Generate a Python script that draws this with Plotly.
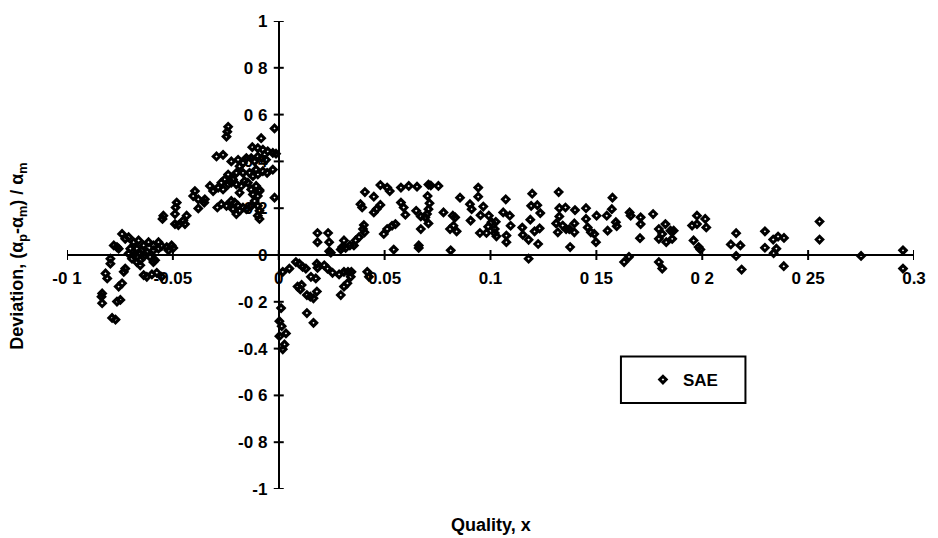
import plotly.graph_objects as go

# SAE void-fraction correlation: relative deviation versus flow quality

# Subcooled region (negative thermodynamic quality)
quality_sub = [
    -0.0239, -0.0243, -0.0247, -0.0020, -0.0083,
    -0.0125, -0.0099, -0.0075, -0.0052, -0.0028, -0.0013,
    -0.0294, -0.0263, -0.0224, -0.0192, -0.0169, -0.0153, -0.0130, -0.0114, -0.0099, -0.0080, -0.0060,
    -0.0271, -0.0255, -0.0239, -0.0216, -0.0200, -0.0185, -0.0169, -0.0161, -0.0138, -0.0122, -0.0107,
    -0.0099, -0.0075, -0.0055, -0.0028,
    -0.0325, -0.0310, -0.0286, -0.0263, -0.0239, -0.0224, -0.0200, -0.0177, -0.0185, -0.0146, -0.0130,
    -0.0107, -0.0091, -0.0122,
    -0.0396, -0.0404, -0.0380, -0.0349, -0.0352, -0.0380,
    -0.0290, -0.0271, -0.0247, -0.0224, -0.0208, -0.0192, -0.0169, -0.0153, -0.0185, -0.0216, -0.0200,
    -0.0130, -0.0114, -0.0099, -0.0091, -0.0099, -0.0091, -0.0091, -0.0099,
    -0.0020,
    -0.0482, -0.0487, -0.0490, -0.0490, -0.0474, -0.0451, -0.0435, -0.0443,
    -0.0545, -0.0549,
    -0.0740, -0.0725, -0.0709, -0.0685, -0.0662, -0.0638, -0.0615, -0.0592, -0.0568, -0.0553, -0.0529,
    -0.0506, -0.0498, -0.0764, -0.0779, -0.0756, -0.0701, -0.0670, -0.0647, -0.0623, -0.0592, -0.0568,
    -0.0521, -0.0709, -0.0685, -0.0654, -0.0631, -0.0608, -0.0670, -0.0654, -0.0693, -0.0592, -0.0584,
    -0.0654,
    -0.0795, -0.0795, -0.0818, -0.0810, -0.0834, -0.0837, -0.0834, -0.0787, -0.0771, -0.0764, -0.0748,
    -0.0756, -0.0740, -0.0732, -0.0725, -0.0638, -0.0623, -0.0599, -0.0576, -0.0553,
]
deviation_sub = [
    0.548, 0.527, 0.506, 0.541, 0.499,
    0.461, 0.457, 0.450, 0.443, 0.436, 0.433,
    0.421, 0.428, 0.400, 0.407, 0.393, 0.414, 0.414, 0.400, 0.421, 0.414, 0.407,
    0.309, 0.323, 0.344, 0.323, 0.351, 0.379, 0.351, 0.316, 0.351, 0.337, 0.365,
    0.344, 0.358, 0.351, 0.365,
    0.295, 0.273, 0.288, 0.280, 0.302, 0.309, 0.302, 0.295, 0.266, 0.309, 0.280,
    0.295, 0.278, 0.259,
    0.273, 0.252, 0.238, 0.238, 0.224, 0.199,
    0.203, 0.217, 0.210, 0.231, 0.224, 0.210, 0.203, 0.196, 0.189, 0.196, 0.175,
    0.210, 0.231, 0.252, 0.273, 0.210, 0.189, 0.154, 0.168,
    0.245,
    0.224, 0.203, 0.175, 0.132, 0.128, 0.147, 0.168, 0.132,
    0.168, 0.154,
    0.090, 0.069, 0.076, 0.055, 0.062, 0.041, 0.055, 0.041, 0.055, 0.038, 0.034,
    0.041, 0.030, 0.034, 0.041, 0.027, 0.027, 0.027, 0.020, 0.013, 0.020, 0.027,
    0.020, 0.006, -0.001, 0.006, -0.001, -0.008, -0.030, -0.022, -0.016, -0.030, -0.022,
    -0.044,
    -0.016, -0.037, -0.079, -0.100, -0.164, -0.178, -0.206, -0.269, -0.276, -0.199, -0.192,
    -0.135, -0.121, -0.072, -0.058, -0.086, -0.093, -0.083, -0.076, -0.093,
]

# Low-quality region (0 < x < 0.11)
quality_low = [
    0.0407, 0.0449, 0.0480, 0.0512, 0.0524, 0.0577, 0.0614, 0.0653, 0.0707, 0.0718, 0.0754,
    0.0703, 0.0712, 0.0707, 0.0700, 0.0692, 0.0707, 0.0671, 0.0649, 0.0671,
    0.0577, 0.0590, 0.0598, 0.0480, 0.0462, 0.0449, 0.0386, 0.0394,
    0.0402, 0.0398, 0.0405, 0.0379, 0.0363, 0.0355, 0.0336, 0.0308, 0.0300, 0.0316, 0.0293,
    0.0496, 0.0512, 0.0535, 0.0551, 0.0543, 0.0661, 0.0661, 0.0812,
    0.0778, 0.0856, 0.0822, 0.0833, 0.0825, 0.0809, 0.0840,
    0.0903, 0.0911, 0.0906, 0.0942, 0.0942, 0.0966, 0.0953, 0.0992, 0.1005, 0.1025, 0.1020,
    0.0989, 0.0950, 0.0981, 0.1020, 0.1028, 0.1072, 0.1060, 0.1091, 0.1095, 0.1075, 0.1075,
    0.0183, 0.0183, 0.0233, 0.0238, 0.0238, 0.0246,
    0.0019, 0.0050, 0.0081, 0.0097, 0.0113, 0.0128, 0.0089, 0.0102, 0.0108, 0.0133, 0.0149,
    0.0164, 0.0180, 0.0175, 0.0183, 0.0180, 0.0230, 0.0215, 0.0254, 0.0285, 0.0308, 0.0327,
    0.0343, 0.0340, 0.0324, 0.0308, 0.0293, 0.0418, 0.0426, 0.0133, 0.0164, 0.0152,
    0.0011, 0.0003, 0.0014, 0.0034, 0.0003, 0.0027, 0.0019,
]
deviation_low = [
    0.269, 0.249, 0.299, 0.288, 0.273, 0.288, 0.295, 0.292, 0.301, 0.297, 0.295,
    0.252, 0.221, 0.196, 0.175, 0.161, 0.135, 0.111, 0.189, 0.165,
    0.224, 0.203, 0.172, 0.214, 0.196, 0.182, 0.217, 0.203,
    0.128, 0.111, 0.097, 0.076, 0.062, 0.041, 0.041, 0.062, 0.034, 0.030, 0.024,
    0.090, 0.111, 0.125, 0.132, 0.023, 0.041, 0.030, 0.020,
    0.182, 0.245, 0.168, 0.161, 0.125, 0.111, 0.101,
    0.217, 0.196, 0.147, 0.288, 0.249, 0.207, 0.170, 0.168, 0.140, 0.142, 0.111,
    0.121, 0.094, 0.094, 0.094, 0.080, 0.238, 0.182, 0.168, 0.125, 0.083, 0.055,
    0.094, 0.055, 0.094, 0.055, 0.016, 0.010,
    -0.072, -0.058, -0.030, -0.037, -0.051, -0.058, -0.135, -0.147, -0.128, -0.171, -0.178,
    -0.185, -0.156, -0.100, -0.055, -0.037, -0.058, -0.044, -0.076, -0.083, -0.072, -0.072,
    -0.072, -0.093, -0.121, -0.135, -0.171, -0.072, -0.093, -0.248, -0.290, -0.093,
    -0.227, -0.283, -0.304, -0.335, -0.347, -0.382, -0.403,
]

# High-quality region (x > 0.11)
quality_high = [
    0.1197, 0.1192, 0.1221, 0.1235, 0.1188, 0.1150, 0.1153, 0.1180, 0.1208, 0.1232, 0.1225, 0.1180,
    0.1322, 0.1325, 0.1354, 0.1399, 0.1451, 0.1325, 0.1310, 0.1341, 0.1357, 0.1372, 0.1396, 0.1396,
    0.1318, 0.1376, 0.1451, 0.1459, 0.1474, 0.1490, 0.1498, 0.1501, 0.1549, 0.1576, 0.1573, 0.1553,
    0.1592, 0.1596, 0.1657, 0.1662, 0.1709, 0.1709, 0.1706, 0.1768, 0.1826, 0.1795, 0.1811, 0.1850,
    0.1865, 0.1795, 0.1830, 0.1858, 0.1631, 0.1654, 0.1795, 0.1811,
    0.1975, 0.2014, 0.2019, 0.1952, 0.1975, 0.1959, 0.1983, 0.1991,
    0.2160, 0.2135, 0.2180, 0.2160, 0.2186, 0.2296, 0.2296, 0.2335, 0.2358, 0.2386, 0.2350, 0.2337,
    0.2385, 0.2554, 0.2554, 0.2750, 0.2948, 0.2948,
]
deviation_high = [
    0.262, 0.210, 0.213, 0.179, 0.151, 0.117, 0.086, 0.065, 0.101, 0.114, 0.047, -0.016,
    0.269, 0.200, 0.203, 0.192, 0.200, 0.165, 0.135, 0.126, 0.111, 0.111, 0.135, 0.097,
    0.097, 0.034, 0.154, 0.118, 0.097, 0.090, 0.055, 0.168, 0.168, 0.245, 0.196, 0.104,
    0.140, 0.123, 0.182, 0.168, 0.161, 0.132, 0.072, 0.175, 0.132, 0.111, 0.090, 0.104,
    0.104, 0.069, 0.055, 0.069, -0.030, -0.008, -0.030, -0.058,
    0.168, 0.154, 0.118, 0.126, 0.132, 0.062, 0.034, 0.024,
    0.093, 0.045, 0.041, -0.004, -0.062, 0.101, 0.031, 0.066, 0.079, 0.073, 0.027, 0.008,
    -0.048, 0.143, 0.066, -0.004, 0.020, -0.058,
]

quality = quality_sub + quality_low + quality_high
deviation = deviation_sub + deviation_low + deviation_high

x_ticks = [-0.1, -0.05, 0, 0.05, 0.1, 0.15, 0.2, 0.25, 0.3]
x_labels = ["-0 1", "-0.05", "0", "0.05", "0.1", "0 15", "0 2", "0 25", "0.3"]
y_ticks = [1, 0.8, 0.6, 0.4, 0.2, 0, -0.2, -0.4, -0.6, -0.8, -1]
y_labels = ["1", "0 8", "0 6", "0 4", "0 2", "0", "-0 2", "-0.4", "-0 6", "-0 8", "-1"]

FONT = "Liberation Sans, Arial, sans-serif"
tick_font = dict(family=FONT, size=17, color="black", weight="bold")
title_font = dict(family=FONT, size=18, color="black", weight="bold")
TICK_HALF = 5  # pixels each side of the axis line

fig = go.Figure()
fig.add_trace(go.Scatter(
    x=quality, y=deviation, mode="markers", name="SAE", cliponaxis=False,
    marker=dict(symbol="diamond-open", size=5, color="black",
                line=dict(width=3, color="black")),
))

# Tick marks crossing the axes (both sides of each axis line)
tick_shapes = []
for v in x_ticks:
    tick_shapes.append(dict(type="line", xref="x", yref="y", x0=v, x1=v,
                            ysizemode="pixel", yanchor=0, y0=-TICK_HALF, y1=TICK_HALF,
                            line=dict(color="black", width=2), layer="below"))
for v in y_ticks:
    tick_shapes.append(dict(type="line", xref="x", yref="y", y0=v, y1=v,
                            xsizemode="pixel", xanchor=0, x0=-TICK_HALF, x1=TICK_HALF,
                            line=dict(color="black", width=2), layer="below"))

legend_box = dict(type="rect", xref="paper", yref="paper",
                  x0=0.654, x1=0.801, y0=0.184, y1=0.283,
                  line=dict(color="black", width=2), fillcolor="rgba(0,0,0,0)")

fig.update_layout(
    width=938, height=538,
    margin=dict(l=67, r=18, t=16, b=49),
    paper_bgcolor="white", plot_bgcolor="white",
    font=dict(family=FONT, color="black"),
    showlegend=True,
    xaxis=dict(range=[-0.1, 0.3], tickmode="array", tickvals=x_ticks, ticktext=x_labels,
               showgrid=False, zeroline=False, anchor="free", position=0.5,
               ticks="outside", ticklen=5, tickcolor="rgba(0,0,0,0)",
               showline=True, linewidth=2, linecolor="black",
               tickfont=tick_font, ticklabelstandoff=3, layer="below traces"),
    yaxis=dict(range=[-1, 1], tickmode="array", tickvals=y_ticks, ticktext=y_labels,
               showgrid=False, zeroline=False, anchor="free", position=0.25,
               ticks="outside", ticklen=5, tickcolor="rgba(0,0,0,0)",
               showline=True, linewidth=2, linecolor="black",
               tickfont=tick_font, ticklabelstandoff=2, layer="below traces"),
    legend=dict(x=0.68, y=0.233, xanchor="left", yanchor="middle",
                bgcolor="rgba(0,0,0,0)", borderwidth=0,
                font=dict(family=FONT, size=17, color="black", weight="bold")),
    shapes=tick_shapes + [legend_box],
    annotations=[
        dict(text="Quality, x", xref="paper", yref="paper", x=0.5, y=-0.076,
             xanchor="center", yanchor="middle", showarrow=False, font=title_font),
        dict(text="Deviation, (α<sub>p</sub>-α<sub>m</sub>) / α<sub>m</sub>",
             xref="paper", yref="paper", x=-0.0574, y=0.497, textangle=-90,
             xanchor="center", yanchor="middle", showarrow=False, font=title_font),
    ],
)

fig.write_html("out.html")
